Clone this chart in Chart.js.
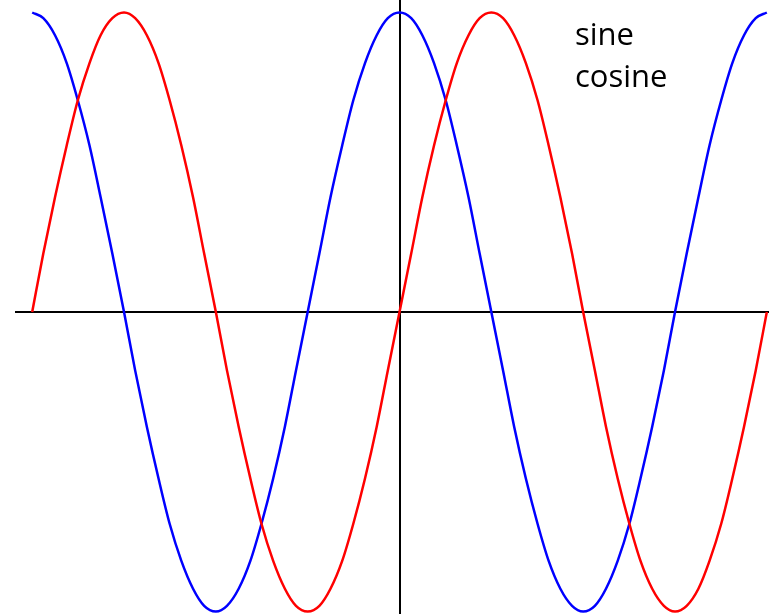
<!DOCTYPE html>
<html>
<head>
<meta charset="utf-8">
<script src="https://cdn.jsdelivr.net/npm/chart.js@4/dist/chart.umd.min.js"></script>
<style>
  html, body { margin: 0; padding: 0; background: #fff; }
  #wrap { width: 769px; height: 614px; position: relative; }
</style>
</head>
<body>
<div id="wrap"><canvas id="waves"></canvas></div>
<script>
// x positions (radians): -2pi .. 2pi in steps of pi/16
const xValues = [
  -6.28, -6.09, -5.89, -5.69, -5.50, -5.30, -5.11, -4.91, -4.71, -4.52, -4.32, -4.12, -3.93, -3.73, -3.53, -3.34,
  -3.14, -2.95, -2.75, -2.55, -2.36, -2.16, -1.96, -1.77, -1.57, -1.37, -1.18, -0.98, -0.79, -0.59, -0.39, -0.20,
  0, 0.20, 0.39, 0.59, 0.79, 0.98, 1.18, 1.37, 1.57, 1.77, 1.96, 2.16, 2.36, 2.55, 2.75, 2.95,
  3.14, 3.34, 3.53, 3.73, 3.93, 4.12, 4.32, 4.52, 4.71, 4.91, 5.11, 5.30, 5.50, 5.69, 5.89, 6.09, 6.28
];

const sineValues = [
  0, 0.195, 0.383, 0.556, 0.707, 0.831, 0.924, 0.981, 1, 0.981, 0.924, 0.831, 0.707, 0.556, 0.383, 0.195,
  0, -0.195, -0.383, -0.556, -0.707, -0.831, -0.924, -0.981, -1, -0.981, -0.924, -0.831, -0.707, -0.556, -0.383, -0.195,
  0, 0.195, 0.383, 0.556, 0.707, 0.831, 0.924, 0.981, 1, 0.981, 0.924, 0.831, 0.707, 0.556, 0.383, 0.195,
  0, -0.195, -0.383, -0.556, -0.707, -0.831, -0.924, -0.981, -1, -0.981, -0.924, -0.831, -0.707, -0.556, -0.383, -0.195,
  0
];

const cosineValues = [
  1, 0.981, 0.924, 0.831, 0.707, 0.556, 0.383, 0.195, 0, -0.195, -0.383, -0.556, -0.707, -0.831, -0.924, -0.981,
  -1, -0.981, -0.924, -0.831, -0.707, -0.556, -0.383, -0.195, 0, 0.195, 0.383, 0.556, 0.707, 0.831, 0.924, 0.981,
  1, 0.981, 0.924, 0.831, 0.707, 0.556, 0.383, 0.195, 0, -0.195, -0.383, -0.556, -0.707, -0.831, -0.924, -0.981,
  -1, -0.981, -0.924, -0.831, -0.707, -0.556, -0.383, -0.195, 0, 0.195, 0.383, 0.556, 0.707, 0.831, 0.924, 0.981,
  1
];

const seriesNames = ['sine', 'cosine'];

const toPoints = (ys) => xValues.map((x, i) => ({ x: x, y: ys[i] }));

// only the zero line of each axis is visible
const axisLine = (ctx) => (ctx.tick && ctx.tick.value === 0 ? '#000000' : 'rgba(0,0,0,0)');

// plain text legend in the upper right, no colour boxes
const textLegend = {
  id: 'textLegend',
  afterDraw: function(chart) {
    const c = chart.ctx;
    c.save();
    c.fillStyle = '#000';
    c.font = '31px "Open Sans", sans-serif';
    c.textBaseline = 'alphabetic';
    chart.data.datasets.forEach((ds, i) => {
      c.fillText(ds.label, 575, 45 + i * 42);
    });
    c.restore();
  }
};

new Chart(document.getElementById('waves'), {
  type: 'line',
  data: {
    datasets: [
      {
        label: seriesNames[0],
        data: toPoints(sineValues),
        borderColor: '#ff0000',
        borderWidth: 2.5,
        pointRadius: 0,
        cubicInterpolationMode: 'monotone',
        fill: false
      },
      {
        label: seriesNames[1],
        data: toPoints(cosineValues),
        borderColor: '#0000ff',
        borderWidth: 2.5,
        pointRadius: 0,
        cubicInterpolationMode: 'monotone',
        fill: false
      }
    ]
  },
  options: {
    responsive: true,
    maintainAspectRatio: false,
    animation: false,
    layout: { padding: { left: 15, right: 0, top: 0, bottom: 0 } },
    scales: {
      x: {
        type: 'linear',
        min: -6.574,
        max: 6.317,
        ticks: { display: false, stepSize: 1 },
        border: { display: false },
        grid: { drawTicks: false, color: axisLine, lineWidth: 2 }
      },
      y: {
        min: -1.0084,
        max: 1.0417,
        ticks: { display: false, stepSize: 1 },
        border: { display: false },
        grid: { drawTicks: false, color: axisLine, lineWidth: 2 }
      }
    },
    plugins: {
      legend: { display: false },
      tooltip: { enabled: false }
    }
  },
  plugins: [textLegend]
});
</script>
</body>
</html>
